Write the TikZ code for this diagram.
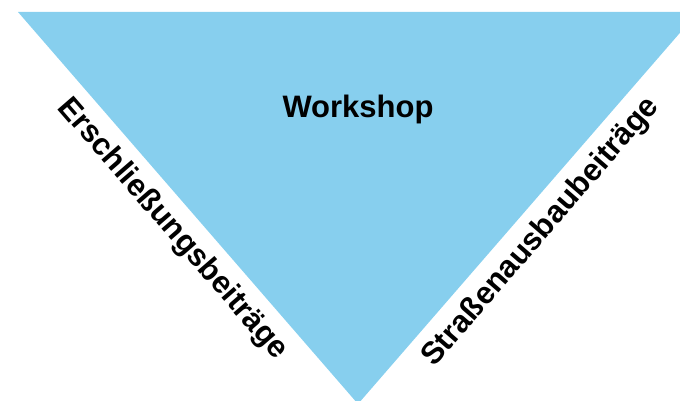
\documentclass[tikz,border=0pt]{standalone}
\usepackage{fontspec}
\setmainfont{Liberation Sans}
\usetikzlibrary{calc}
\definecolor{tri}{RGB}{135,207,238}
\tikzset{
  lbl/.style={font=\fontsize{31}{31}\selectfont\bfseries, text=black, inner sep=0pt},
}
\begin{document}
\begin{tikzpicture}[x=1pt,y=-1pt]
\useasboundingbox (0,0) rectangle (680,401);
\clip (0,0) rectangle (680,401);
\coordinate (TL) at (18,12);
\coordinate (TR) at (698,12);
\coordinate (V) at (358,404);
\fill[tri] (TL) -- (TR) -- (V) -- cycle;
\node[lbl, anchor=base] (ws) at (358,117.3) {Workshop};
\coordinate (L) at ($(TL)!0.511!(V)$);
\coordinate (R) at ($(V)!0.481!(TR)$);
\node[lbl, anchor=north, rotate=-49.06] (erschl) at ($(L)!11pt!-90:(V)$) {Erschließungsbeiträge};
\node[lbl, anchor=north, rotate=49.06] (strasse) at ($(R)!11pt!-90:(TR)$) {Straßenausbaubeiträge};
\end{tikzpicture}
\end{document}
